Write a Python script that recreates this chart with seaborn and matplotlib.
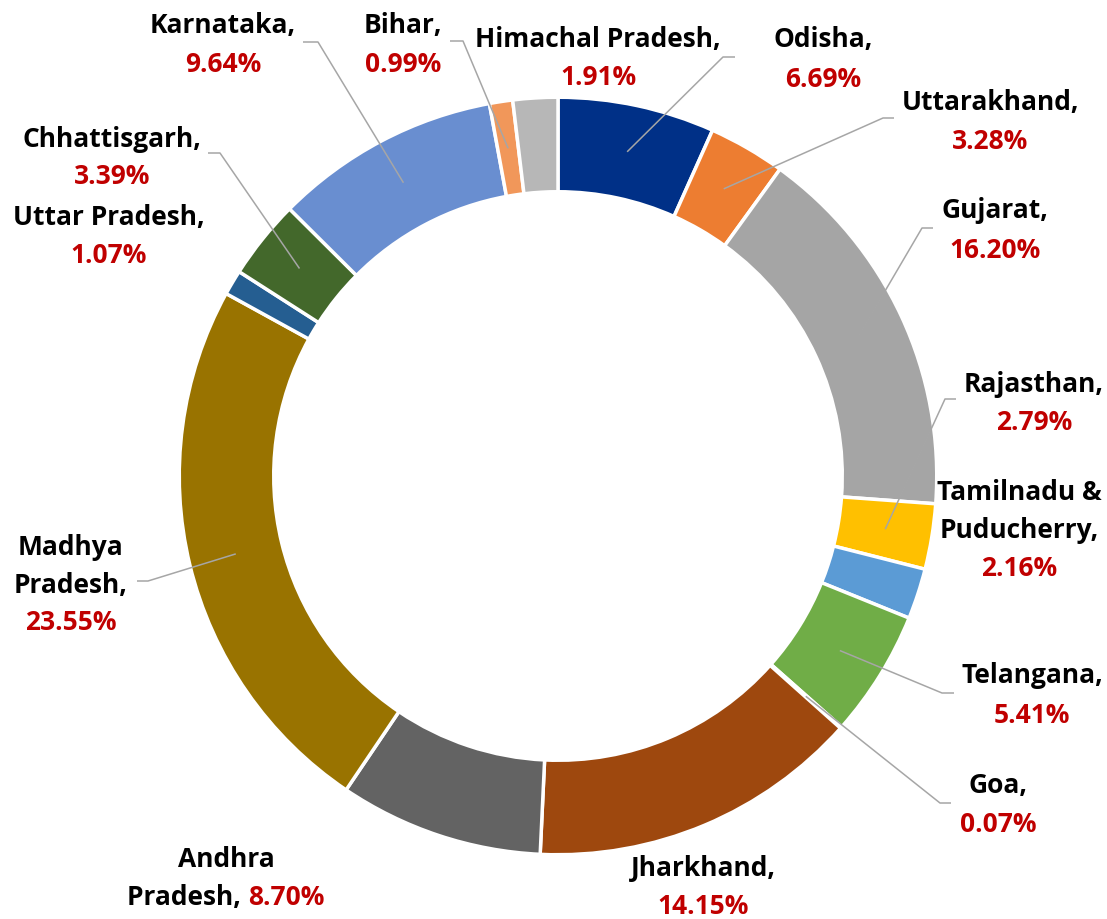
import matplotlib
matplotlib.use("Agg")
import matplotlib.pyplot as plt
import numpy as np
import seaborn as sns

# ---------------- data ----------------
states = ["Odisha", "Uttarakhand", "Gujarat", "Rajasthan", "Tamilnadu & Puducherry",
          "Telangana", "Goa", "Jharkhand", "Andhra Pradesh", "Madhya Pradesh",
          "Uttar Pradesh", "Chhattisgarh", "Karnataka", "Bihar", "Himachal Pradesh"]
shares = [6.69, 3.28, 16.20, 2.79, 2.16, 5.41, 0.07, 14.15, 8.70, 23.55,
          1.07, 3.39, 9.64, 0.99, 1.91]
colors = ["#003087", "#ED7D31", "#A5A5A5", "#FFC000", "#5B9BD5", "#70AD47",
          "#264478", "#9E480E", "#636363", "#997300", "#255E91", "#43682B",
          "#698ED0", "#F1975A", "#B7B7B7"]

# label layout: name lines, centre x (px), first baseline y (px), line spacing
label_layout = {
    "Karnataka": (["Karnataka,"], 223, 33, 39),
    "Bihar": (["Bihar,"], 403, 33, 39),
    "Himachal Pradesh": (["Himachal Pradesh,"], 598, 47, 38),
    "Odisha": (["Odisha,"], 823, 47, 40),
    "Uttarakhand": (["Uttarakhand,"], 990, 110, 39),
    "Gujarat": (["Gujarat,"], 995, 218, 40),
    "Rajasthan": (["Rajasthan,"], 1034, 392, 38),
    "Tamilnadu & Puducherry": (["Tamilnadu &", "Puducherry,"], 1019, 500, 38),
    "Telangana": (["Telangana,"], 1032, 683, 40),
    "Goa": (["Goa,"], 998, 793, 39),
    "Jharkhand": (["Jharkhand,"], 703, 876, 38),
    "Madhya Pradesh": (["Madhya", "Pradesh,"], 71, 555, 37.5),
    "Chhattisgarh": (["Chhattisgarh,"], 112, 147, 37),
    "Uttar Pradesh": (["Uttar Pradesh,"], 109, 225, 38),
}
# leader lines: label end, elbow (px)
leaders = {
    "Karnataka": ((303, 42), (318, 42)),
    "Bihar": ((450, 41), (463, 41)),
    "Odisha": ((735, 57), (723, 57)),
    "Uttarakhand": ((894, 118), (883, 118)),
    "Gujarat": ((933, 228), (922, 228)),
    "Rajasthan": ((956, 399), (945, 399)),
    "Telangana": ((954, 693), (942, 693)),
    "Goa": ((951, 803), (940, 803)),
    "Madhya Pradesh": ((137, 581), (148, 581)),
    "Chhattisgarh": ((208, 153), (220, 153)),
}

# ---------------- style ----------------
sns.set_style("white")
plt.rcParams["font.family"] = ["Open Sans", "DejaVu Sans"]

W, H = 1107, 919
fig = plt.figure(figsize=(W / 100, H / 100), dpi=100)
ax = fig.add_axes([0, 0, 1, 1])

def Y(y):
    return H - y

cx, cy = 558, Y(476)
R_out, R_in = 377, 286
lw_pt = 2.5
lw_px = lw_pt * 100 / 72
R = R_out + lw_px / 2
width = (R_out - R_in) + lw_px

ax.pie(shares, colors=colors, startangle=90, counterclock=False,
       center=(cx, cy), radius=R,
       wedgeprops=dict(width=width, edgecolor="white", linewidth=lw_pt))

ax.set_xlim(0, W)
ax.set_ylim(0, H)
ax.set_aspect("equal")
ax.axis("off")

# leader lines to wedge mid-points
total = sum(shares)
cum = np.cumsum([0] + shares[:-1])
r_mid = (R_out + R_in) / 2
for name, (p_end, p_elb) in leaders.items():
    i = states.index(name)
    t = np.deg2rad(360 * (cum[i] + shares[i] / 2) / total)
    tx, ty = cx + r_mid * np.sin(t), cy + r_mid * np.cos(t)
    ax.plot([p_end[0], p_elb[0], tx], [Y(p_end[1]), Y(p_elb[1]), ty],
            color="#A6A6A6", lw=1.1, zorder=5, solid_capstyle="butt")

FS = 19
RED = "#C00000"
txt_kw = dict(fontsize=FS, fontweight="bold", ha="center", va="baseline", zorder=6)

for name, (lines, x, y0, dy) in label_layout.items():
    i = states.index(name)
    for k, ln in enumerate(lines):
        ax.text(x, Y(y0 + k * dy), ln, color="black", **txt_kw)
    ax.text(x, Y(y0 + len(lines) * dy), f"{shares[i]:.2f}%", color=RED, **txt_kw)

# Andhra Pradesh: two-coloured second line
i_ap = states.index("Andhra Pradesh")
ax.text(226, Y(867), "Andhra", color="black", **txt_kw)
renderer = fig.canvas.get_renderer()
seg = [("Pradesh, ", "black"), (f"{shares[i_ap]:.2f}%", RED)]
objs = [ax.text(0, Y(905), s, color=c, fontsize=FS, fontweight="bold",
                ha="left", va="baseline", zorder=6) for s, c in seg]
widths = [o.get_window_extent(renderer).width for o in objs]
x0 = 226 - sum(widths) / 2
for o, w in zip(objs, widths):
    o.set_x(x0)
    x0 += w

fig.savefig("out.png", dpi=100)
